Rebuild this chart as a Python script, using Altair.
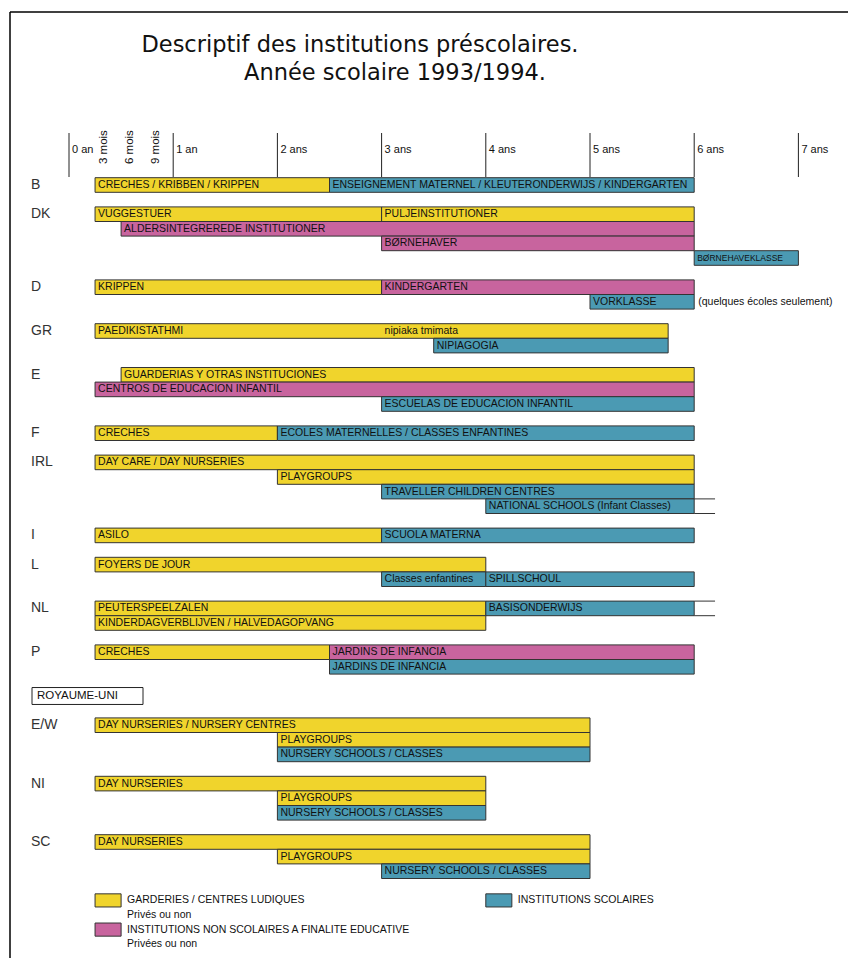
import altair as alt
import pandas as pd

# ---------------- data ----------------
countries = ["B", "DK", "D", "GR", "E", "F", "IRL", "I", "L", "NL", "P", "E/W", "NI", "SC"]
country_rows = [0, 2, 7, 10, 13, 17, 19, 24, 26, 29, 32, 37, 41, 45]

# G = garderies / centres ludiques, N = institutions non scolaires à finalité éducative,
# S = institutions scolaires ; ages in years
bar_row = [0, 0,
           2, 2, 3, 4, 5,
           7, 7, 8,
           10, 11,
           13, 14, 15,
           17, 17,
           19, 20, 21, 22,
           24, 24,
           26, 27, 27,
           29, 29, 30,
           32, 32, 33,
           37, 38, 39,
           41, 42, 43,
           45, 46, 47]
bar_start = [0.25, 2.5,
             0.25, 3, 0.5, 3, 6,
             0.25, 3, 5,
             0.25, 3.5,
             0.5, 0.25, 3,
             0.25, 2,
             0.25, 2, 3, 4,
             0.25, 3,
             0.25, 3, 4,
             0.25, 4, 0.25,
             0.25, 2.5, 2.5,
             0.25, 2, 2,
             0.25, 2, 2,
             0.25, 2, 3]
bar_end = [2.5, 6,
           3, 6, 6, 6, 7,
           3, 6, 6,
           5.75, 5.75,
           6, 6, 6,
           2, 6,
           6, 6, 6, 6,
           3, 6,
           4, 4, 6,
           4, 6, 4,
           2.5, 6, 6,
           5, 5, 5,
           4, 4, 4,
           5, 5, 5]
bar_cat = ["G", "S",
           "G", "G", "N", "N", "S",
           "G", "N", "S",
           "G", "S",
           "G", "N", "S",
           "G", "S",
           "G", "G", "S", "S",
           "G", "S",
           "G", "S", "S",
           "G", "S", "G",
           "G", "N", "S",
           "G", "G", "S",
           "G", "G", "S",
           "G", "G", "S"]
bar_label = ["CRECHES / KRIBBEN / KRIPPEN", "ENSEIGNEMENT MATERNEL / KLEUTERONDERWIJS / KINDERGARTEN",
             "VUGGESTUER", "PULJEINSTITUTIONER", "ALDERSINTEGREREDE INSTITUTIONER", "BØRNEHAVER", "BØRNEHAVEKLASSE",
             "KRIPPEN", "KINDERGARTEN", "VORKLASSE",
             "PAEDIKISTATHMI", "NIPIAGOGIA",
             "GUARDERIAS Y OTRAS INSTITUCIONES", "CENTROS DE EDUCACION INFANTIL", "ESCUELAS DE EDUCACION INFANTIL",
             "CRECHES", "ECOLES MATERNELLES / CLASSES ENFANTINES",
             "DAY CARE / DAY NURSERIES", "PLAYGROUPS", "TRAVELLER CHILDREN CENTRES", "NATIONAL SCHOOLS (Infant Classes)",
             "ASILO", "SCUOLA MATERNA",
             "FOYERS DE JOUR", "Classes enfantines", "SPILLSCHOUL",
             "PEUTERSPEELZALEN", "BASISONDERWIJS", "KINDERDAGVERBLIJVEN / HALVEDAGOPVANG",
             "CRECHES", "JARDINS DE INFANCIA", "JARDINS DE INFANCIA",
             "DAY NURSERIES / NURSERY CENTRES", "PLAYGROUPS", "NURSERY SCHOOLS / CLASSES",
             "DAY NURSERIES", "PLAYGROUPS", "NURSERY SCHOOLS / CLASSES",
             "DAY NURSERIES", "PLAYGROUPS", "NURSERY SCHOOLS / CLASSES"]

# extra label inside a bar
extra_row = [10]
extra_x = [3.0]
extra_label = ["nipiaka tmimata"]

# open-ended rows (lines continuing past 6 years)
open_row = [22, 29]
open_start = [6, 6]
open_end = [6.2, 6.2]

# note
note_row = [8]
note_x = [6.0]
note_text = ["(quelques écoles seulement)"]

# axis
years = [0, 1, 2, 3, 4, 5, 6, 7]
year_labels = ["0 an", "1 an", "2 ans", "3 ans", "4 ans", "5 ans", "6 ans", "7 ans"]
months = [3, 6, 9]
month_labels = ["3 mois", "6 mois", "9 mois"]

# legend
legend_row = [49, 51, 49]
legend_start = [0.25, 0.25, 4.0]
legend_end = [0.5, 0.5, 4.25]
legend_cat = ["G", "N", "S"]
legend_text_row = [49, 50, 51, 52, 49]
legend_text_x = [0.5, 0.5, 0.5, 0.5, 4.25]
legend_text = ["GARDERIES / CENTRES LUDIQUES", "Privés ou non",
               "INSTITUTIONS NON SCOLAIRES A FINALITE EDUCATIVE", "Privées ou non",
               "INSTITUTIONS SCOLAIRES"]

uk_row = [35]
uk_text = ["ROYAUME-UNI"]

title_lines = ["Descriptif des institutions préscolaires.", "Année scolaire 1993/1994."]

# ---------------- layout ----------------
W, H = 840, 950
PX_YEAR = 104.2
X0 = -61 / PX_YEAR
X1 = X0 + W / PX_YEAR
PITCH = 14.6
Y0 = -177 / PITCH
Y1 = Y0 + H / PITCH

xs = alt.Scale(domain=[X0, X1], nice=False, zero=False)
ys = alt.Scale(domain=[Y0, Y1], nice=False, zero=False, reverse=True)

cat_domain = ["G", "N", "S"]
cat_range = ["#F0D42C", "#C8649E", "#4B9AB3"]
cs = alt.Scale(domain=cat_domain, range=cat_range)

FONT = "Liberation Sans"
SMALL = 10.5

bars = pd.DataFrame({"row": bar_row, "start": bar_start, "end": bar_end,
                     "cat": bar_cat, "label": bar_label})
bars["y1"] = bars["row"] - 0.5
bars["y2"] = bars["row"] + 0.5

bar_layer = alt.Chart(bars).mark_rect(stroke="#333333", strokeWidth=1).encode(
    x=alt.X("start:Q", scale=xs, axis=None),
    x2="end:Q",
    y=alt.Y("y1:Q", scale=ys, axis=None),
    y2="y2:Q",
    color=alt.Color("cat:N", scale=cs, legend=None),
)
bar_text = alt.Chart(bars).mark_text(align="left", baseline="middle", dx=3, font=FONT,
                                     color="#111111").encode(
    x=alt.X("start:Q", scale=xs, axis=None),
    y=alt.Y("row:Q", scale=ys, axis=None),
    text="label:N",
    size=alt.condition("datum.label == 'BØRNEHAVEKLASSE'", alt.value(8.5), alt.value(SMALL)),
)

extra = pd.DataFrame({"row": extra_row, "x": extra_x, "label": extra_label})
extra_layer = alt.Chart(extra).mark_text(align="left", baseline="middle", dx=3, font=FONT,
                                         fontSize=SMALL, color="#111111").encode(
    x=alt.X("x:Q", scale=xs, axis=None), y=alt.Y("row:Q", scale=ys, axis=None), text="label:N")

opn = pd.DataFrame({"row": open_row * 2,
                    "edge": [r - 0.5 for r in open_row] + [r + 0.5 for r in open_row],
                    "start": open_start * 2, "end": open_end * 2})
open_layer = alt.Chart(opn).mark_rule(color="#333333", strokeWidth=1).encode(
    x=alt.X("start:Q", scale=xs, axis=None), x2="end:Q",
    y=alt.Y("edge:Q", scale=ys, axis=None))

note = pd.DataFrame({"row": note_row, "x": note_x, "t": note_text})
note_layer = alt.Chart(note).mark_text(align="left", baseline="middle", dx=4, font=FONT,
                                       fontSize=SMALL, color="#111111").encode(
    x=alt.X("x:Q", scale=xs, axis=None), y=alt.Y("row:Q", scale=ys, axis=None), text="t:N")

ctry = pd.DataFrame({"c": countries, "row": country_rows})
ctry_layer = alt.Chart(ctry).mark_text(align="left", baseline="middle", font=FONT,
                                       fontSize=14, color="#333333").encode(
    x=alt.value(23), y=alt.Y("row:Q", scale=ys, axis=None), text="c:N")

ticks = pd.DataFrame({"yr": years, "lab": year_labels})
tick_layer = alt.Chart(ticks).mark_rule(color="#222222", strokeWidth=1).encode(
    x=alt.X("yr:Q", scale=xs, axis=None), y=alt.value(125), y2=alt.value(169))
tick_text = alt.Chart(ticks).mark_text(align="left", baseline="middle", dx=3, font=FONT,
                                       fontSize=11, color="#111111").encode(
    x=alt.X("yr:Q", scale=xs, axis=None), y=alt.value(142), text="lab:N")

mo = pd.DataFrame({"m": months, "lab": month_labels})
mo["yr"] = mo["m"] / 12
mo_text = alt.Chart(mo).mark_text(align="left", baseline="middle", angle=270, dy=9, font=FONT,
                                  fontSize=11.5, color="#111111").encode(
    x=alt.X("yr:Q", scale=xs, axis=None), y=alt.value(156), text="lab:N")

leg = pd.DataFrame({"row": legend_row, "start": legend_start, "end": legend_end, "cat": legend_cat})
leg["y1"] = leg["row"] - 0.45
leg["y2"] = leg["row"] + 0.45
leg_layer = alt.Chart(leg).mark_rect(stroke="#333333", strokeWidth=1).encode(
    x=alt.X("start:Q", scale=xs, axis=None), x2="end:Q",
    y=alt.Y("y1:Q", scale=ys, axis=None), y2="y2:Q",
    color=alt.Color("cat:N", scale=cs, legend=None))
legt = pd.DataFrame({"row": legend_text_row, "x": legend_text_x, "t": legend_text})
legt_layer = alt.Chart(legt).mark_text(align="left", baseline="middle", dx=6, font=FONT,
                                       fontSize=SMALL, color="#111111").encode(
    x=alt.X("x:Q", scale=xs, axis=None), y=alt.Y("row:Q", scale=ys, axis=None), text="t:N")

uk = pd.DataFrame({"row": uk_row, "t": uk_text})
uk["y1"] = uk["row"] - 0.58
uk["y2"] = uk["row"] + 0.58
uk_box = alt.Chart(uk).mark_rect(fill="white", stroke="#222222", strokeWidth=1).encode(
    x=alt.value(24), x2=alt.value(135),
    y=alt.Y("y1:Q", scale=ys, axis=None), y2="y2:Q")
uk_text_layer = alt.Chart(uk).mark_text(align="left", baseline="middle", font=FONT,
                                        fontSize=11.5, color="#111111").encode(
    x=alt.value(29), y=alt.Y("row:Q", scale=ys, axis=None), text="t:N")

one = pd.DataFrame({"a": [0]})
frame_top = alt.Chart(one).mark_rule(color="#000000", strokeWidth=1.5).encode(
    x=alt.value(2), x2=alt.value(W), y=alt.value(4))
frame_left = alt.Chart(one).mark_rule(color="#000000", strokeWidth=1.5).encode(
    x=alt.value(2), y=alt.value(4), y2=alt.value(H))

tl = pd.DataFrame({"t": title_lines, "ypix": [37, 65], "xpix": [352, 387]})
title_layer = alt.Chart(tl).mark_text(align="center", baseline="middle", font="DejaVu Sans",
                                      fontSize=22.5, color="#111111").encode(
    x=alt.X("xpix:Q", scale=None), y=alt.Y("ypix:Q", scale=None), text="t:N")

chart = alt.layer(
    frame_top, frame_left, title_layer,
    tick_layer, tick_text, mo_text,
    ctry_layer, bar_layer, bar_text, extra_layer, open_layer, note_layer,
    uk_box, uk_text_layer, leg_layer, legt_layer,
).properties(
    width=W, height=H, padding=0,
    autosize=alt.AutoSizeParams(type="none"),
    background="white",
).configure_view(stroke=None)

chart.save("out.html", embed_options={"renderer": "svg", "actions": False})
